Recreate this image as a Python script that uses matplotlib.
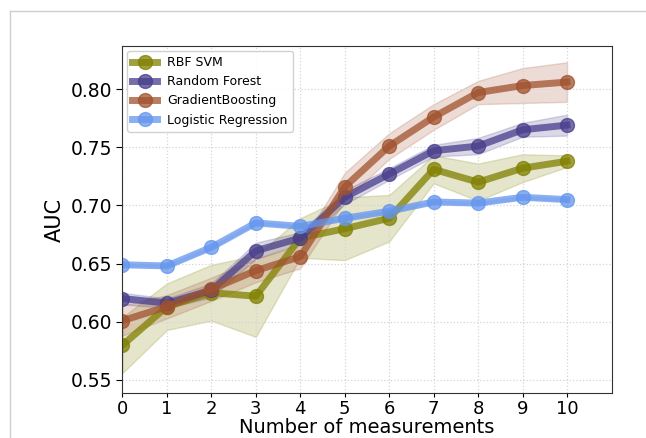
import matplotlib
matplotlib.use("Agg")
import matplotlib.pyplot as plt
from matplotlib.lines import Line2D
import numpy as np

n_meas = list(range(11))

svm_mean = [0.580, 0.613, 0.625, 0.622, 0.672, 0.680, 0.689, 0.731, 0.720, 0.732, 0.738]
svm_std = [0.024, 0.020, 0.024, 0.035, 0.017, 0.027, 0.020, 0.012, 0.016, 0.012, 0.005]

rf_mean = [0.620, 0.616, 0.627, 0.661, 0.672, 0.707, 0.727, 0.747, 0.751, 0.765, 0.769]
rf_std = [0.005, 0.004, 0.006, 0.007, 0.005, 0.006, 0.005, 0.005, 0.007, 0.006, 0.009]

gb_mean = [0.601, 0.613, 0.628, 0.644, 0.656, 0.716, 0.751, 0.776, 0.797, 0.803, 0.806]
gb_std = [0.013, 0.010, 0.010, 0.010, 0.010, 0.012, 0.011, 0.011, 0.010, 0.015, 0.017]

lr_mean = [0.649, 0.648, 0.664, 0.685, 0.682, 0.689, 0.695, 0.703, 0.702, 0.707, 0.705]
lr_std = [0.001] * 11

series = [
    ("RBF SVM", svm_mean, svm_std, "#808000"),
    ("Random Forest", rf_mean, rf_std, "#483D8B"),
    ("GradientBoosting", gb_mean, gb_std, "#A0522D"),
    ("Logistic Regression", lr_mean, lr_std, "#6495ED"),
]

fig = plt.figure(figsize=(6.46, 4.38), dpi=100)
ax = fig.add_axes([0.1896, 0.1016, 0.757, 0.7934])

for name, m, s, c in series:
    m = np.array(m)
    s = np.array(s)
    ax.fill_between(n_meas, m - s, m + s, color=c, alpha=0.2)
    ax.plot(n_meas, m, color=c, alpha=0.75, linewidth=5, marker="o",
            markersize=10, label=name)

ax.set_xlim(0, 11)
ax.set_ylim(0.5384, 0.837)
ax.set_xticks(range(11))
ax.set_yticks([0.55, 0.60, 0.65, 0.70, 0.75, 0.80])
ax.tick_params(axis="y", labelsize=13.5, direction="out", length=4)
ax.tick_params(axis="x", labelsize=13, direction="out", length=3, pad=1.5)
ax.grid(True, linestyle=":", color="#d5d5d5", linewidth=0.9)
ax.set_xlabel("Number of measurements", fontsize=14, labelpad=0)
ax.set_ylabel("AUC", fontsize=15)
for sp in ax.spines.values():
    sp.set_color("#333333")
ax.legend(loc="upper left", fontsize=9, framealpha=0.9, borderaxespad=0.4)

# light outer frame (cropped at right and bottom)
fig.add_artist(Line2D([9.5 / 646, 9.5 / 646], [0, 1 - 11 / 438],
                      transform=fig.transFigure, color="#cfcfcf", linewidth=1))
fig.add_artist(Line2D([9.5 / 646, 1], [1 - 11 / 438, 1 - 11 / 438],
                      transform=fig.transFigure, color="#cfcfcf", linewidth=1))

plt.savefig("out.png", dpi=100)
